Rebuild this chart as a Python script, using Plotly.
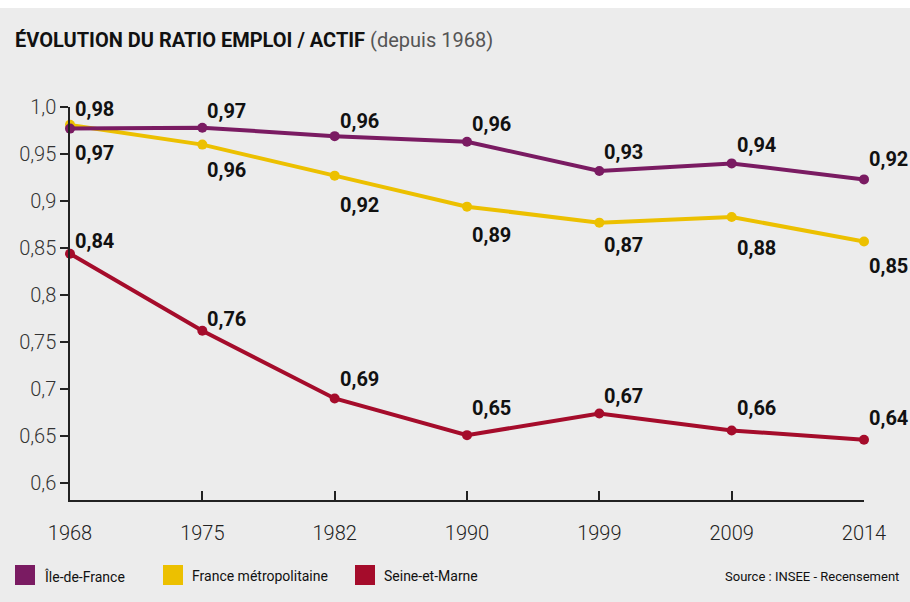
import plotly.graph_objects as go

years = ["1968", "1975", "1982", "1990", "1999", "2009", "2014"]

idf = [0.977, 0.978, 0.969, 0.963, 0.932, 0.940, 0.923]
france = [0.981, 0.960, 0.927, 0.894, 0.877, 0.883, 0.857]
seine = [0.844, 0.762, 0.690, 0.651, 0.674, 0.656, 0.646]

idf_labels = ["0,97", "0,97", "0,96", "0,96", "0,93", "0,94", "0,92"]
france_labels = ["0,98", "0,96", "0,92", "0,89", "0,87", "0,88", "0,85"]
seine_labels = ["0,84", "0,76", "0,69", "0,65", "0,67", "0,66", "0,64"]

# vertical offset of each value label from its point (px, + = above)
idf_shift = [-24, 17, 15, 18, 19, 18, 20]
france_shift = [16, -25, -29, -28, -22, -31, -25]
seine_shift = [13, 12, 19, 27, 18, 22, 22]

y_ticks = [0.6, 0.65, 0.7, 0.75, 0.8, 0.85, 0.9, 0.95, 1.0]
y_ticktext = ["0,6", "0,65", "0,7", "0,75", "0,8", "0,85", "0,9", "0,95", "1,0"]

PURPLE = "#7a1b62"
YELLOW = "#ecc000"
RED = "#a50c2b"
BG = "#ececec"
FONT = "Roboto, sans-serif"

# plot area in pixels (for placing decorations in paper coords)
PL, PR, PT, PB = 70, 864, 107, 500
PW, PH = PR - PL, PB - PT


def px(x):
    return (x - PL) / PW


def py(y):
    return (PB - y) / PH


fig = go.Figure()

series = [
    ("France métropolitaine", france, YELLOW),
    ("Seine-et-Marne", seine, RED),
    ("Île-de-France", idf, PURPLE),
]
for name, vals, col in series:
    fig.add_trace(go.Scatter(
        x=years, y=vals, mode="lines+markers", name=name,
        line=dict(color=col, width=4), marker=dict(color=col, size=10),
        cliponaxis=False, showlegend=False, hoverinfo="skip",
    ))


# value labels (x given as category index)
def add_labels(vals, labels, shifts):
    for i, (v, t, s) in enumerate(zip(vals, labels, shifts)):
        fig.add_annotation(
            x=i, y=v, text="<b>" + t + "</b>", showarrow=False,
            xanchor="left", yanchor="middle", xshift=4, yshift=s,
            borderpad=0,
            font=dict(size=20, color="#111111", family=FONT),
        )


add_labels(idf, idf_labels, idf_shift)
add_labels(france, france_labels, france_shift)
add_labels(seine, seine_labels, seine_shift)

# legend drawn by hand (square + label)
legend = [("Île-de-France", PURPLE, 15), ("France métropolitaine", YELLOW, 163),
          ("Seine-et-Marne", RED, 355)]
for name, col, x0 in legend:
    fig.add_shape(type="rect", xref="paper", yref="paper",
                  x0=px(x0), x1=px(x0 + 20), y0=py(585), y1=py(565),
                  fillcolor=col, line=dict(width=0))
    fig.add_annotation(
        xref="paper", yref="paper", x=px(x0 + 27), y=py(576),
        xanchor="left", yanchor="middle", showarrow=False, text=name,
        font=dict(size=14, color="#111111", family=FONT),
    )

fig.add_annotation(
    xref="paper", yref="paper", x=px(13), y=py(40),
    xanchor="left", yanchor="middle", showarrow=False,
    text="<b>ÉVOLUTION DU RATIO EMPLOI / ACTIF</b> <span style='color:#555555'>(depuis 1968)</span>",
    font=dict(size=20, color="#111111", family=FONT),
)
fig.add_annotation(
    xref="paper", yref="paper", x=px(901), y=py(576),
    xanchor="right", yanchor="middle", showarrow=False,
    text="Source : INSEE - Recensement",
    font=dict(size=13, color="#111111", family=FONT),
)

fig.add_shape(type="rect", xref="paper", yref="paper", layer="below",
              x0=px(-10), x1=px(920), y0=py(8), y1=py(-10),
              fillcolor="white", line=dict(width=0))

fig.update_layout(
    width=910, height=602,
    margin=dict(l=PL, r=910 - PR, t=PT, b=602 - PB, autoexpand=False),
    paper_bgcolor=BG, plot_bgcolor=BG,
    font=dict(family=FONT, color="#222222"),
    showlegend=False,
)
fig.update_xaxes(
    type="category", range=[0, 6], showgrid=False, zeroline=False,
    showline=True, linecolor="#222222", linewidth=2,
    ticks="inside", ticklen=9, tickcolor="#222222", tickwidth=1.5,
    tickfont=dict(size=20, color="#222222", weight=300), ticklabelstandoff=14,
    fixedrange=True,
)
fig.update_yaxes(
    range=[0.582, 1.0], tickvals=y_ticks, ticktext=y_ticktext,
    showgrid=False, zeroline=False,
    showline=True, linecolor="#222222", linewidth=1.5,
    ticks="outside", ticklen=8, tickcolor="#222222", tickwidth=1.5,
    tickfont=dict(size=20, color="#333333", weight=300),
    fixedrange=True,
)

fig.write_html("out.html", config={"displayModeBar": False},
               post_script="document.body.style.margin='0px';")
